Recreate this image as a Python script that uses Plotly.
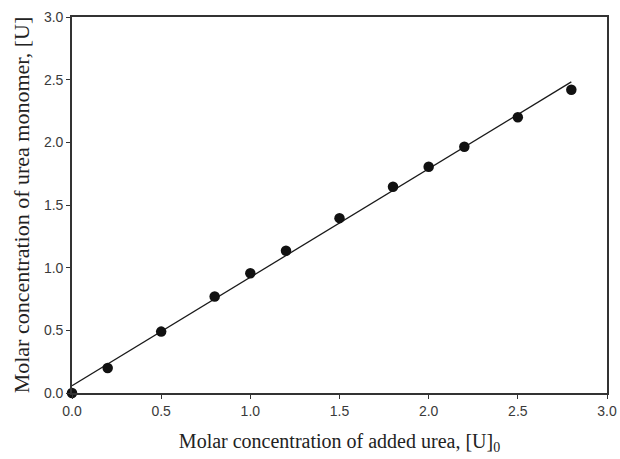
import numpy as np
import plotly.graph_objects as go

# Added urea vs. free urea monomer (molar)
added_urea = [0.0, 0.2, 0.5, 0.8, 1.0, 1.2, 1.5, 1.8, 2.0, 2.2, 2.5, 2.8]
urea_monomer = [0.0, 0.2, 0.49, 0.77, 0.955, 1.135, 1.395, 1.645, 1.805, 1.965, 2.2, 2.42]
tick_vals = [0.0, 0.5, 1.0, 1.5, 2.0, 2.5, 3.0]
tick_text = ["0.0", "0.5", "1.0", "1.5", "2.0", "2.5", "3.0"]

# Least-squares line through the measured points
slope, intercept = np.polyfit(added_urea, urea_monomer, 1)
fit_x = [min(added_urea), max(added_urea)]
fit_y = [slope * v + intercept for v in fit_x]

fig = go.Figure()
fig.add_trace(go.Scatter(x=fit_x, y=fit_y, mode="lines",
                         line=dict(color="#1a1a1a", width=1.3), showlegend=False))
fig.add_trace(go.Scatter(x=added_urea, y=urea_monomer, mode="markers",
                         marker=dict(color="#111111", size=10.5), cliponaxis=False,
                         showlegend=False))

axis_common = dict(
    range=[0, 3.0], tickvals=tick_vals, ticktext=tick_text,
    ticks="outside", ticklen=4, tickwidth=1, tickcolor="#333333",
    showline=True, linecolor="#333333", linewidth=1.6, mirror=True,
    showgrid=False, zeroline=False, automargin=False,
    tickfont=dict(family="Liberation Sans, Arial, sans-serif", size=14, color="#3a3a3a"),
)

serif = "Liberation Serif, Times New Roman, serif"

fig.update_layout(
    width=620, height=459,
    margin=dict(l=72, r=13, t=17, b=66),
    paper_bgcolor="white", plot_bgcolor="white",
    xaxis=dict(**axis_common,
               title=dict(text="Molar concentration of added urea, [U]<sub>0</sub>",
                          font=dict(family=serif, size=20, color="#222222"),
                          standoff=16)),
    yaxis=dict(**axis_common,
               title=dict(text="Molar concentration of urea monomer, [U]",
                          font=dict(family=serif, size=22, color="#222222"),
                          standoff=8)),
)

fig.write_html("out.html")
